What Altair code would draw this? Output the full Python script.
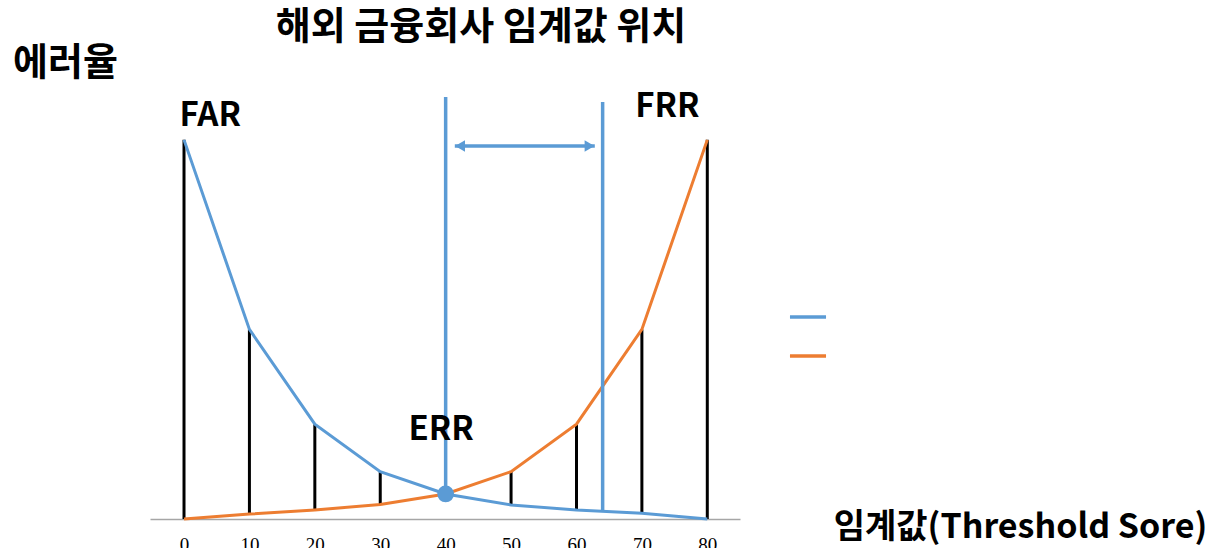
import altair as alt
import pandas as pd

thresholds = [0, 10, 20, 30, 40, 50, 60, 70, 80]
far = [100, 50, 25, 12.5, 6.6, 3.7, 2.4, 1.5, 0]
frr = [0, 1.3, 2.4, 3.8, 6.6, 12.5, 25, 50, 100]
series_names = ["FAR", "FRR"]
series_colors = ["#5B9BD5", "#ED7D31"]

err_x = [40]
err_y = [6.6]
marker_x = [40, 64]
marker_bottom = [6.6, 2.1]
marker_top = [111.3, 110]
arrow_x = [41.4]
arrow_x2 = [62.8]
arrow_y = [98.4]
head_x = [42.2, 62.0]
head_shape = ["triangle-left", "triangle-right"]
label_text = ["FAR", "FRR", "ERR"]
label_x = [4, 73.9, 39.3]
label_y = [106.3, 108.7, 23.5]

KFONT = "Noto Sans CJK KR"

long_df = pd.DataFrame({
    "t": thresholds * 2,
    "v": far + frr,
    "s": ["FAR"] * len(far) + ["FRR"] * len(frr),
})
span_df = pd.DataFrame({
    "t": thresholds,
    "lo": [min(a, b) for a, b in zip(far, frr)],
    "hi": [max(a, b) for a, b in zip(far, frr)],
})
marker_df = pd.DataFrame({"t": marker_x, "lo": marker_bottom, "hi": marker_top})
arrow_df = pd.DataFrame({"x": arrow_x, "x2": arrow_x2, "y": arrow_y})
head_df = pd.DataFrame({"x": head_x, "y": arrow_y * 2, "shape": head_shape})
err_df = pd.DataFrame({"t": err_x, "v": err_y})
lab_df = pd.DataFrame({"text": label_text, "x": label_x, "y": label_y})

xscale = alt.Scale(domain=[-5.2, 85], nice=False, zero=False)
yscale = alt.Scale(domain=[0, 115], nice=False)

xaxis = alt.Axis(
    values=thresholds, format="d", grid=False, ticks=False,
    domainColor="#A6A6A6", domainWidth=1.5,
    labelFont="Liberation Serif", labelFontSize=19, labelColor="#000000",
    labelPadding=16, labelBaseline="top",
    title="임계값(Threshold Sore)", titleFont=KFONT, titleFontSize=34,
    titleFontWeight="bold", titleColor="#000000",
    titleX=870, titleY=8, titleAlign="center", titleBaseline="middle",
)
yaxis = alt.Axis(
    domain=False, labels=False, ticks=False, grid=False,
    title="에러율", titleFont=KFONT, titleFontSize=38, titleFontWeight="bold",
    titleColor="#000000", titleAngle=0, titleX=-85, titleY=-20,
    titleAlign="center", titleBaseline="middle",
)

x = alt.X("t:Q", scale=xscale, axis=xaxis)
y = alt.Y("v:Q", scale=yscale, axis=yaxis)

black = alt.Chart(span_df).mark_rule(color="#000000", strokeWidth=3).encode(
    x=alt.X("t:Q", scale=xscale), y=alt.Y("lo:Q", scale=yscale), y2="hi:Q"
)

lines = alt.Chart(long_df).mark_line(strokeWidth=3).encode(
    x=x, y=y,
    color=alt.Color(
        "s:N",
        scale=alt.Scale(domain=series_names, range=series_colors),
        legend=alt.Legend(
            title=None, orient="none", legendX=638, legendY=214,
            symbolType="stroke", symbolStrokeWidth=3.5, symbolSize=1300,
            labelColor="#FFFFFF", labelFontSize=14, rowPadding=12,
        ),
    ),
)

markers = alt.Chart(marker_df).mark_rule(color="#5B9BD5", strokeWidth=3.5).encode(
    x=alt.X("t:Q", scale=xscale), y=alt.Y("lo:Q", scale=yscale), y2="hi:Q"
)

arrow = alt.Chart(arrow_df).mark_rule(color="#5B9BD5", strokeWidth=3.5).encode(
    x=alt.X("x:Q", scale=xscale), x2="x2:Q", y=alt.Y("y:Q", scale=yscale)
)

heads = alt.Chart(head_df).mark_point(filled=True, opacity=1, color="#5B9BD5", size=130).encode(
    x=alt.X("x:Q", scale=xscale), y=alt.Y("y:Q", scale=yscale),
    shape=alt.Shape("shape:N", scale=None, legend=None),
)

err = alt.Chart(err_df).mark_circle(color="#5B9BD5", opacity=1, size=280).encode(
    x=alt.X("t:Q", scale=xscale), y=alt.Y("v:Q", scale=yscale)
)

labels = alt.Chart(lab_df).mark_text(
    font=KFONT, fontSize=33, fontWeight="bold", color="#000000", baseline="middle"
).encode(
    x=alt.X("x:Q", scale=xscale), y=alt.Y("y:Q", scale=yscale), text="text:N"
)

chart = alt.layer(black, lines, markers, arrow, heads, err, labels).properties(
    width=590, height=436,
    title=alt.TitleParams(
        "해외 금융회사 임계값 위치", font=KFONT, fontSize=38, fontWeight="bold",
        color="#000000", anchor="middle", dx=36, dy=3, offset=0,
    ),
    autosize=alt.AutoSizeParams(type="none"),
    padding={"left": 150, "top": 83, "right": 480, "bottom": 29},
).configure(background="#FFFFFF").configure_view(stroke=None)

chart.save("out.html", embed_options={"renderer": "svg", "actions": False})
